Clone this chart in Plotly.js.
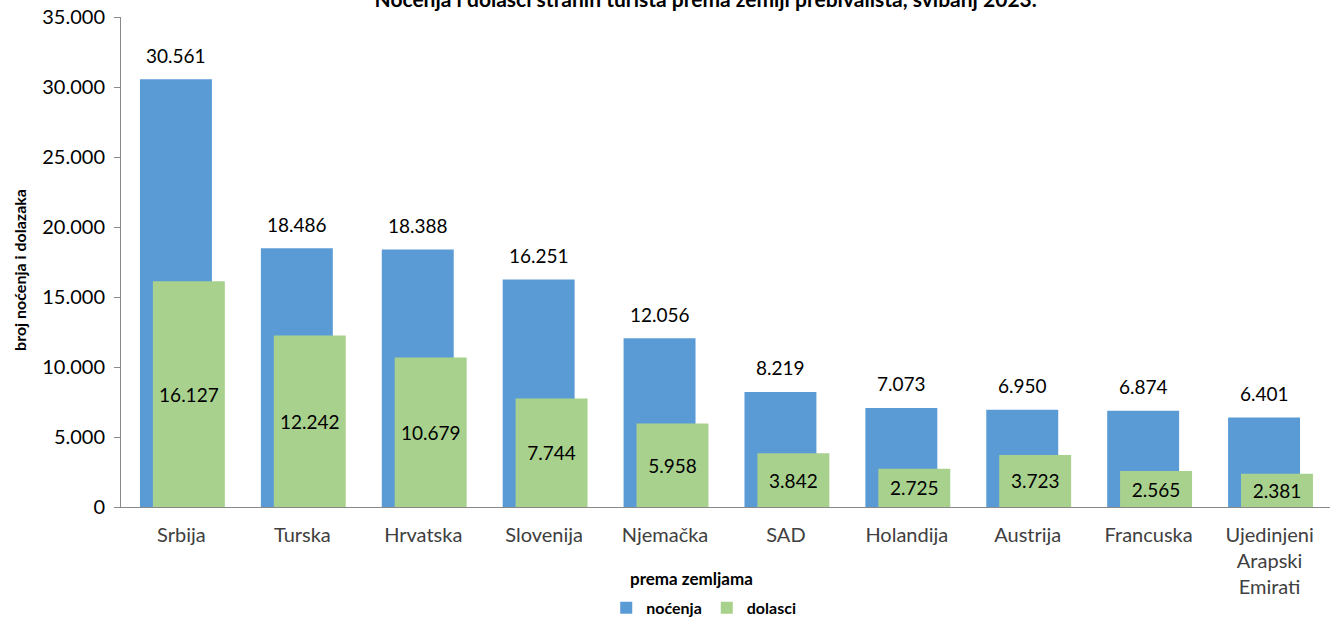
<!DOCTYPE html>
<html>
<head>
<meta charset="utf-8">
<script src="https://cdn.plot.ly/plotly-3.0.1.min.js"></script>
<style>html,body{margin:0;padding:0;background:#fff;}#chart{width:1339px;height:621px;}</style>
</head>
<body>
<div id="chart"></div>
<script>
var categories = ["Srbija", "Turska", "Hrvatska", "Slovenija", "Njemačka", "SAD", "Holandija", "Austrija", "Francuska", "Ujedinjeni<br>Arapski<br>Emirati"];
var nocenja = [30561, 18486, 18388, 16251, 12056, 8219, 7073, 6950, 6874, 6401];
var dolasci = [16127, 12242, 10679, 7744, 5958, 3842, 2725, 3723, 2565, 2381];
var yTickVals = [0, 5000, 10000, 15000, 20000, 25000, 30000, 35000];
var yTickText = ["0", "5.000", "10.000", "15.000", "20.000", "25.000", "30.000", "35.000"];

function fmt(v) {
  return String(v).replace(/\B(?=(\d{3})+(?!\d))/g, ".");
}

var FONT = "Lato, 'Noto Sans', sans-serif";

var traces = [
  {
    type: "bar", name: "noćenja", x: categories, y: nocenja,
    width: 0.595, offset: -0.343,
    marker: {color: "#5B9BD5"},
    hoverinfo: "y"
  },
  {
    type: "bar", name: "dolasci", x: categories, y: dolasci,
    width: 0.595, offset: -0.236,
    marker: {color: "#A9D18E"},
    text: dolasci.map(fmt), textposition: "inside", insidetextanchor: "middle",
    constraintext: "none",
    insidetextfont: {family: FONT, size: 19, color: "#000"},
    hoverinfo: "y"
  }
];

var annotations = categories.map(function (c, i) {
  return {
    x: c, y: nocenja[i], xref: "x", yref: "y",
    text: fmt(nocenja[i]), showarrow: false,
    xshift: -5, yshift: 24, yanchor: "middle",
    font: {family: FONT, size: 19, color: "#000"}
  };
});
annotations.push({
  xref: "paper", yref: "paper", x: 0.472, y: -0.145, yanchor: "middle",
  text: "<b>prema zemljama</b>", showarrow: false,
  font: {family: FONT, size: 17, color: "#000"}
});
annotations.push({
  xref: "paper", yref: "paper", x: -0.093, y: 0.484, textangle: -90,
  text: "<b>broj noćenja i dolazaka</b>", showarrow: false,
  font: {family: FONT, size: 16, color: "#000"}
});

var layout = {
  width: 1339, height: 621,
  margin: {l: 121, r: 9, t: 17, b: 114},
  paper_bgcolor: "#fff", plot_bgcolor: "#fff",
  barmode: "overlay",
  title: {
    text: "<b>Noćenja i dolasci stranih turista prema zemlji prebivališta, svibanj 2023.</b>",
    x: 0.527, xanchor: "center", yref: "container", y: 1, yanchor: "middle",
    font: {family: FONT, size: 21, color: "#000"}
  },
  xaxis: {
    type: "category",
    showline: true, linecolor: "#898989", linewidth: 1,
    ticks: "", showgrid: false, zeroline: false,
    ticklabelstandoff: 10,
    tickfont: {family: FONT, size: 20, color: "#404040"}
  },
  yaxis: {
    range: [0, 35000], tickvals: yTickVals, ticktext: yTickText,
    showline: true, linecolor: "#898989", linewidth: 1,
    ticks: "outside", ticklen: 6, tickcolor: "#898989",
    ticklabelstandoff: 5,
    showgrid: false, zeroline: false,
    tickfont: {family: FONT, size: 20, color: "#000"}
  },
  showlegend: true,
  legend: {
    orientation: "h", xref: "paper", x: 0.482, xanchor: "center",
    yref: "container", y: 0.021, yanchor: "middle",
    font: {family: FONT, size: 16, color: "#000", weight: "bold"},
    itemwidth: 30, traceorder: "normal"
  },
  annotations: annotations
};

Plotly.newPlot("chart", traces, layout, {displayModeBar: false, staticPlot: true});
</script>
</body>
</html>
